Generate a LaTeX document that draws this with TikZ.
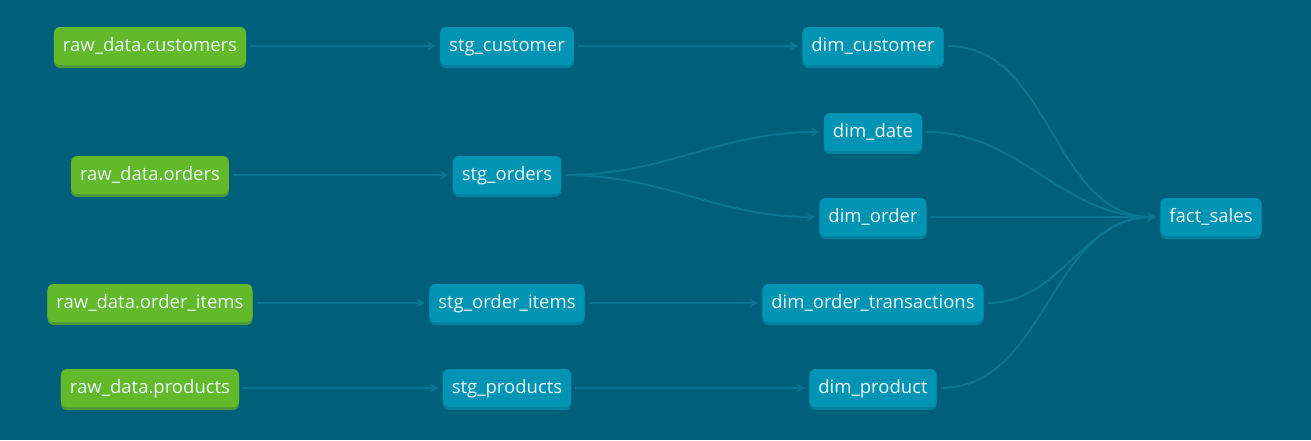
\documentclass[tikz,border=0pt]{standalone}
\usepackage{fontspec}
\setmainfont{Open Sans}
\usepackage{tikz}
\usetikzlibrary{arrows.meta, positioning, shadows}
\definecolor{dbtbg}{HTML}{005F7A}
\definecolor{dbtblue}{HTML}{0094B4}
\definecolor{dbtblueshade}{HTML}{00809E}
\definecolor{dbtgreen}{HTML}{62B92A}
\definecolor{dbtgreenshade}{HTML}{4C9A3A}
\definecolor{dbtedge}{HTML}{0A7592}
\definecolor{dbttext}{HTML}{EAF6F9}

\begin{document}
\begin{tikzpicture}[x=1pt, y=-1pt,
    model/.style={rectangle, rounded corners=6pt, fill=#1, text=dbttext, minimum height=38pt, inner xsep=9pt,
        text height=14pt, text depth=3pt, font=\fontsize{18.5}{21}\selectfont},
    srcnode/.style={model=dbtgreen, general shadow={fill=dbtgreenshade, shadow yshift=-3pt}},
    stgnode/.style={model=dbtblue, general shadow={fill=dbtblueshade, shadow yshift=-3pt}},
    link/.style={draw=dbtedge, line width=2pt, -{Stealth[length=9pt, width=9pt, inset=3.5pt]}, shorten >=4pt, shorten <=4pt},
]
\fill[dbtbg] (0,0) rectangle (1311,440);
\useasboundingbox (0,0) rectangle (1311,440);

% sources
\node[srcnode] (rawcust) at (150,46) {raw\_data.customers};
\node[srcnode] (raword) at (150,175) {raw\_data.orders};
\node[srcnode] (rawitems) at (150,303) {raw\_data.order\_items};
\node[srcnode] (rawprod) at (150,388) {raw\_data.products};

% staging
\node[stgnode] (stgcust) at (507,46) {stg\_customer};
\node[stgnode] (stgord) at (507,175) {stg\_orders};
\node[stgnode] (stgitems) at (507,303) {stg\_order\_items};
\node[stgnode] (stgprod) at (507,388) {stg\_products};

% dimensions
\node[stgnode] (dimcust) at (873,46) {dim\_customer};
\node[stgnode] (dimdate) at (873,132) {dim\_date};
\node[stgnode] (dimord) at (873,217) {dim\_order};
\node[stgnode] (dimtrans) at (873,303) {dim\_order\_transactions};
\node[stgnode] (dimprod) at (873,388) {dim\_product};

% fact
\node[stgnode] (fact) at (1211,217) {fact\_sales};

\draw[link] (rawcust) -- (stgcust);
\draw[link] (raword) -- (stgord);
\draw[link] (rawitems) -- (stgitems);
\draw[link] (rawprod) -- (stgprod);

\draw[link] (stgcust) -- (dimcust);
\draw[link] (stgord.east) to[out=0, in=180] (dimdate.west);
\draw[link] (stgord.east) to[out=0, in=180] (dimord.west);
\draw[link] (stgitems) -- (dimtrans);
\draw[link] (stgprod) -- (dimprod);

\draw[link] (dimcust.east) to[out=0, in=180] (fact.west);
\draw[link] (dimdate.east) to[out=0, in=180] (fact.west);
\draw[link] (dimord.east) -- (fact.west);
\draw[link] (dimtrans.east) to[out=0, in=180] (fact.west);
\draw[link] (dimprod.east) to[out=0, in=180] (fact.west);
\end{tikzpicture}
\end{document}
